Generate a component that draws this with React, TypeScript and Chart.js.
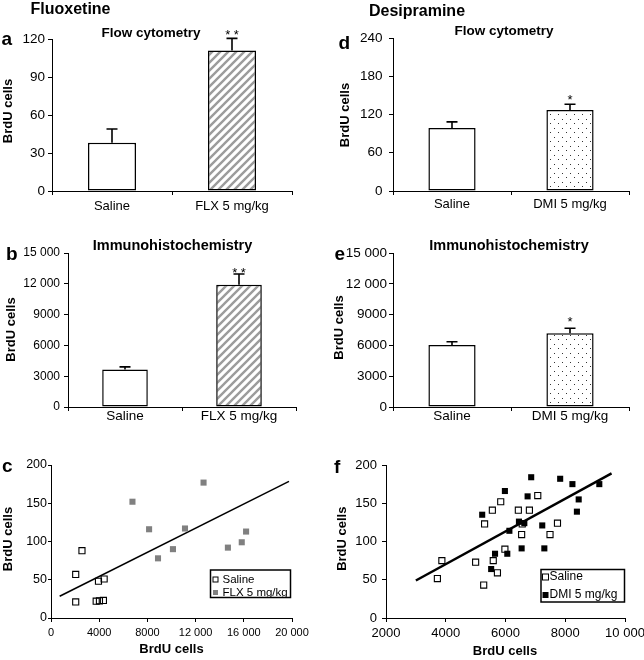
import React, { useEffect, useRef } from 'react';
import { Chart, registerables } from 'chart.js';

Chart.register(...registerables);

const FONT = '"Liberation Sans", Arial, Helvetica, sans-serif';
Chart.defaults.font.family = FONT;
Chart.defaults.color = '#000';

// ---------------- data ----------------
const categoriesFLX = ['Saline', 'FLX 5 mg/kg'];
const categoriesDMI = ['Saline', 'DMI 5 mg/kg'];

// axis ranges: [min, max, step]
const flowFLXAxis = [0, 120, 30];
const ihcAxis = [0, 15000, 3000];
const flowDMIAxis = [0, 240, 60];
const scatterYAxis = [0, 200, 50];
const flxScatterXAxis = [0, 20000, 4000];
const dmiScatterXAxis = [2000, 10000, 2000];

const flowFLXMean = [38, 111];
const flowFLXErr = [11, 9.5];
const flowFLXSig = ['', '* *'];

const ihcFLXMean = [3650, 11900];
const ihcFLXErr = [260, 1050];
const ihcFLXSig = ['', '* *'];

const flowDMIMean = [99, 127];
const flowDMIErr = [9.5, 9];
const flowDMISig = ['', '*'];

const ihcDMIMean = [6040, 7180];
const ihcDMIErr = [320, 490];
const ihcDMISig = ['', '*'];

const flxSalineIhc = [2050, 2050, 2570, 3750, 3940, 4020, 4350, 4410];
const flxSalineFlow = [21, 57, 88, 22, 48, 22.5, 23, 51];
const flxDrugIhc = [6760, 8140, 8880, 10120, 11120, 12660, 14680, 15830, 16190];
const flxDrugFlow = [152, 116, 78, 90, 117, 177, 92, 99, 113];
const flxTrendIhc = [720, 19750];
const flxTrendFlow = [28.4, 178.6];

const dmiSalineIhc = [3720, 3870, 5000, 5270, 5300, 5560, 5590, 5730, 5840, 5980, 6430, 6540, 6560, 6800, 7080, 7490, 7740];
const dmiSalineFlow = [51.5, 75, 73, 43, 123, 141, 75, 59, 152, 90, 141, 109, 123, 141, 160, 109, 124];
const dmiDrugIhc = [5220, 5520, 5650, 5980, 6060, 6130, 6450, 6540, 6630, 6740, 6860, 7230, 7300, 7830, 8240, 8390, 8450, 9140];
const dmiDrugFlow = [135, 64, 84, 166, 84, 114, 126, 91, 124, 159, 184, 121, 91, 182, 175, 139, 155, 175];
const dmiTrendIhc = [3000, 9550];
const dmiTrendFlow = [49, 189];

// ---------------- helpers ----------------
const W = 644;
const H = 660;

const fmt = (v: any) => {
  const n = Number(v);
  return n >= 10000 ? String(n).replace(/\B(?=(\d{3})+(?!\d))/g, ' ') : String(n);
};

const pts = (xs: number[], ys: number[]) => xs.map((x, i) => ({ x, y: ys[i] }));

const fixY = (w: number) => (s: any) => {
  s.width = w;
  s.paddingTop = 0; s.paddingBottom = 0; s.paddingLeft = 0; s.paddingRight = 0;
};
const fixX = (h: number) => (s: any) => {
  s.height = h;
  s.paddingTop = 0; s.paddingBottom = 0; s.paddingLeft = 0; s.paddingRight = 0;
};

function font(size: number, bold?: boolean) {
  return `${bold ? 'bold ' : ''}${size}px ${FONT}`;
}

function makeExtras(o: any) {
  return {
    id: 'extras',
    afterDatasetsDraw(chart: any) {
      if (!o.errors) return;
      const ctx = chart.ctx;
      const ys = chart.scales.y;
      const meta = chart.getDatasetMeta(0);
      const vals = chart.data.datasets[0].data;
      ctx.save();
      ctx.strokeStyle = '#000';
      ctx.lineWidth = 1.6;
      meta.data.forEach((bar: any, i: number) => {
        const top = ys.getPixelForValue(vals[i] + o.errors[i]);
        ctx.beginPath();
        ctx.moveTo(bar.x, bar.y);
        ctx.lineTo(bar.x, top);
        ctx.moveTo(bar.x - 5.5, top);
        ctx.lineTo(bar.x + 5.5, top);
        ctx.stroke();
        const s = o.stars && o.stars[i];
        if (s) {
          ctx.fillStyle = '#000';
          ctx.font = font(13);
          ctx.textAlign = 'center';
          ctx.textBaseline = 'alphabetic';
          ctx.fillText(s, bar.x, top + o.starOffset);
        }
      });
      ctx.restore();
    },
    afterDraw(chart: any) {
      const ctx = chart.ctx;
      ctx.save();
      if (o.legend) {
        const L = o.legend;
        const [l, t, r, b] = L.box;
        ctx.fillStyle = '#fff';
        ctx.fillRect(l, t, r - l, b - t);
        ctx.strokeStyle = '#000';
        ctx.lineWidth = 1.5;
        ctx.strokeRect(l, t, r - l, b - t);
        L.datasets.forEach((di: number, k: number) => {
          const ds = chart.data.datasets[di];
          const cy = L.rows[k];
          const m = L.marker;
          if (ds.pointBackgroundColor && ds.pointBackgroundColor !== 'rgba(0,0,0,0)') {
            ctx.fillStyle = ds.pointBackgroundColor;
            ctx.fillRect(L.markerX - m / 2, cy - m / 2, m, m);
          }
          if (ds.pointBorderWidth > 0) {
            ctx.strokeStyle = ds.pointBorderColor;
            ctx.lineWidth = 1;
            ctx.strokeRect(L.markerX - m / 2, cy - m / 2, m, m);
          }
          ctx.fillStyle = '#000';
          ctx.font = font(L.size);
          ctx.textAlign = 'left';
          ctx.textBaseline = 'middle';
          ctx.fillText(ds.label, L.textX, cy);
        });
      }
      (o.texts || []).forEach((t: any) => {
        ctx.save();
        ctx.fillStyle = '#000';
        ctx.font = font(t.size, t.bold);
        ctx.textAlign = t.align || 'left';
        ctx.textBaseline = t.baseline || 'alphabetic';
        if (t.rotate) {
          ctx.translate(t.x, t.y);
          ctx.rotate(-Math.PI / 2);
          ctx.fillText(t.text, 0, 0);
        } else {
          ctx.fillText(t.text, t.x, t.y);
        }
        ctx.restore();
      });
      ctx.restore();
    },
  };
}

function area(l: number, t: number, r: number, b: number, xh: number) {
  return { padding: { left: 0, top: t, right: W - r, bottom: H - b - xh }, yWidth: l, xHeight: xh };
}

function barConfig(c: any) {
  const a = area(c.area[0], c.area[1], c.area[2], c.area[3], 30);
  return {
    type: 'bar',
    data: {
      labels: c.labels,
      datasets: [
        {
          data: c.values,
          backgroundColor: ['#ffffff', c.fill],
          borderColor: '#000',
          borderWidth: 1.5,
          borderSkipped: false,
          barPercentage: 0.4,
          categoryPercentage: 1,
        },
      ],
    },
    options: {
      responsive: false,
      animation: false,
      events: [],
      layout: { padding: a.padding },
      plugins: { legend: { display: false }, tooltip: { enabled: false }, title: { display: false } },
      scales: {
        x: {
          grid: { display: true, drawOnChartArea: false, tickLength: 4, tickColor: '#000', offset: true },
          border: { color: '#000', width: 1 },
          ticks: { font: { size: c.xFont }, padding: c.xPad, color: '#000', maxRotation: 0 },
          afterFit: fixX(a.xHeight),
        },
        y: {
          min: c.axis[0],
          max: c.axis[1],
          ticks: { stepSize: c.axis[2], font: { size: c.yFont }, padding: c.yPad, color: '#000', callback: fmt },
          grid: { drawOnChartArea: false, tickLength: 4, tickColor: '#000' },
          border: { color: '#000', width: 1 },
          afterFit: fixY(a.yWidth),
        },
      },
    },
    plugins: [makeExtras({ errors: c.errors, stars: c.stars, starOffset: c.starOffset, texts: c.texts })],
  };
}

function scatterConfig(c: any) {
  const a = area(c.area[0], c.area[1], c.area[2], c.area[3], 30);
  return {
    type: 'scatter',
    data: {
      datasets: [
        {
          label: 'Trend',
          data: c.trend,
          showLine: true,
          borderColor: '#000',
          borderWidth: c.trendWidth,
          pointRadius: 0,
          order: 2,
        },
        {
          label: 'Saline',
          data: c.saline,
          pointStyle: 'rect',
          pointRadius: 4.3,
          pointBackgroundColor: 'rgba(0,0,0,0)',
          pointBorderColor: '#000',
          pointBorderWidth: 1.1,
          order: 1,
        },
        {
          label: c.drugLabel,
          data: c.drug,
          pointStyle: 'rect',
          pointRadius: 4.3,
          pointBackgroundColor: c.drugColor,
          pointBorderColor: c.drugColor,
          pointBorderWidth: 0,
          order: 0,
        },
      ],
    },
    options: {
      responsive: false,
      animation: false,
      events: [],
      layout: { padding: a.padding },
      plugins: { legend: { display: false }, tooltip: { enabled: false }, title: { display: false } },
      scales: {
        x: {
          type: 'linear',
          min: c.xAxis[0],
          max: c.xAxis[1],
          ticks: { stepSize: c.xAxis[2], font: { size: c.xFont }, padding: c.xPad, color: '#000', callback: fmt, maxRotation: 0 },
          grid: { drawOnChartArea: false, tickLength: 4, tickColor: '#000' },
          border: { color: '#000', width: 1 },
          afterFit: fixX(a.xHeight),
        },
        y: {
          min: c.yAxis[0],
          max: c.yAxis[1],
          ticks: { stepSize: c.yAxis[2], font: { size: c.yFont }, padding: c.yPad, color: '#000', callback: fmt },
          grid: { drawOnChartArea: false, tickLength: c.yTick, tickColor: '#000' },
          border: { color: '#000', width: 1 },
          afterFit: fixY(a.yWidth),
        },
      },
    },
    plugins: [makeExtras({ legend: c.legend, texts: c.texts })],
  };
}

function hatchPattern() {
  const c = document.createElement('canvas');
  c.width = 8;
  c.height = 8;
  const g = c.getContext('2d') as CanvasRenderingContext2D;
  g.fillStyle = '#fff';
  g.fillRect(0, 0, 8, 8);
  g.strokeStyle = '#9c9c9c';
  g.lineWidth = 2.4;
  g.beginPath();
  g.moveTo(-2, 10); g.lineTo(10, -2);
  g.moveTo(-6, 6); g.lineTo(6, -6);
  g.moveTo(2, 14); g.lineTo(14, 2);
  g.stroke();
  return g.createPattern(c, 'repeat');
}

function dotPattern() {
  const c = document.createElement('canvas');
  c.width = 8;
  c.height = 9;
  const g = c.getContext('2d') as CanvasRenderingContext2D;
  g.fillStyle = '#fff';
  g.fillRect(0, 0, 8, 9);
  g.fillStyle = '#333';
  g.fillRect(2, 2, 1, 1);
  g.fillRect(6, 6, 1, 1);
  return g.createPattern(c, 'repeat');
}

const yTitle = (x: number, y: number) => ({ text: 'BrdU cells', x, y, size: 13, bold: true, align: 'center', baseline: 'middle', rotate: true });

export default function App() {
  const canvases = useRef<(HTMLCanvasElement | null)[]>([]);

  useEffect(() => {
    const hatch = hatchPattern();
    const dots = dotPattern();
    const cfgs: any[] = [
      barConfig({
        labels: categoriesFLX, values: flowFLXMean, errors: flowFLXErr, stars: flowFLXSig, starOffset: 0.7,
        fill: hatch, axis: flowFLXAxis, area: [52, 39, 292, 191],
        xFont: 13, xPad: 3.5, yFont: 13.5, yPad: 3,
        texts: [
          { text: 'Fluoxetine', x: 30.5, y: 14, size: 16, bold: true },
          { text: 'a', x: 1.5, y: 45, size: 19, bold: true },
          { text: 'Flow cytometry', x: 151, y: 36.5, size: 13.5, bold: true, align: 'center' },
          yTitle(8, 111),
        ],
      }),
      barConfig({
        labels: categoriesFLX, values: ihcFLXMean, errors: ihcFLXErr, stars: ihcFLXSig, starOffset: 3,
        fill: hatch, axis: ihcAxis, area: [68, 253, 296, 407],
        xFont: 13.5, xPad: -2.5, yFont: 12, yPad: 4,
        texts: [
          { text: 'b', x: 6, y: 260, size: 19, bold: true },
          { text: 'Immunohistochemistry', x: 172.5, y: 250, size: 14.5, bold: true, align: 'center' },
          yTitle(11, 329.5),
        ],
      }),
      scatterConfig({
        saline: pts(flxSalineIhc, flxSalineFlow), drug: pts(flxDrugIhc, flxDrugFlow), trend: pts(flxTrendIhc, flxTrendFlow),
        drugLabel: 'FLX 5 mg/kg', drugColor: '#808080', trendWidth: 1.5,
        xAxis: flxScatterXAxis, yAxis: scatterYAxis, area: [51, 465, 292, 618],
        xFont: 11, xPad: 4, yFont: 12.5, yPad: 1, yTick: 3,
        legend: { box: [210.5, 570, 290.5, 597.5], rows: [579.5, 592.5], markerX: 215.5, textX: 222.5, marker: 5, size: 11.5, datasets: [1, 2] },
        texts: [
          { text: 'c', x: 2, y: 471.5, size: 19, bold: true },
          yTitle(8, 539),
          { text: 'BrdU cells', x: 171.5, y: 649, size: 13, bold: true, align: 'center', baseline: 'middle' },
        ],
      }),
      barConfig({
        labels: categoriesDMI, values: flowDMIMean, errors: flowDMIErr, stars: flowDMISig, starOffset: 0,
        fill: dots, axis: flowDMIAxis, area: [393, 38, 629, 191],
        xFont: 13, xPad: 2, yFont: 13.5, yPad: 6.5,
        texts: [
          { text: 'Desipramine', x: 369, y: 15.5, size: 16, bold: true },
          { text: 'd', x: 338.5, y: 48.5, size: 19, bold: true },
          { text: 'Flow cytometry', x: 504, y: 35, size: 13.5, bold: true, align: 'center' },
          yTitle(345, 115),
        ],
      }),
      barConfig({
        labels: categoriesDMI, values: ihcDMIMean, errors: ihcDMIErr, stars: ihcDMISig, starOffset: -1.8,
        fill: dots, axis: ihcAxis, area: [393, 253, 629, 407],
        xFont: 13.5, xPad: -2.5, yFont: 13.5, yPad: 2,
        texts: [
          { text: 'e', x: 334.5, y: 259.5, size: 19, bold: true },
          { text: 'Immunohistochemistry', x: 509, y: 250, size: 14.5, bold: true, align: 'center' },
          yTitle(339, 327.5),
        ],
      }),
      scatterConfig({
        saline: pts(dmiSalineIhc, dmiSalineFlow), drug: pts(dmiDrugIhc, dmiDrugFlow), trend: pts(dmiTrendIhc, dmiTrendFlow),
        drugLabel: 'DMI 5 mg/kg', drugColor: '#000000', trendWidth: 2.5,
        xAxis: dmiScatterXAxis, yAxis: scatterYAxis, area: [386, 465, 625, 618],
        xFont: 13, xPad: 4, yFont: 13, yPad: 5, yTick: 4,
        legend: { box: [541, 569.5, 624.5, 602], rows: [577, 595], markerX: 545.5, textX: 549.5, marker: 6, size: 12, datasets: [1, 2] },
        texts: [
          { text: 'f', x: 334, y: 473, size: 19, bold: true },
          yTitle(342, 538.7),
          { text: 'BrdU cells', x: 505, y: 651, size: 13, bold: true, align: 'center', baseline: 'middle' },
        ],
      }),
    ];
    const charts = cfgs.map((cfg, i) => new Chart(canvases.current[i] as HTMLCanvasElement, cfg));
    return () => charts.forEach((c) => c.destroy());
  }, []);

  return (
    <div style={{ position: 'absolute', left: 0, top: 0, width: W, height: H, background: '#fff', overflow: 'hidden' }}>
      {[0, 1, 2, 3, 4, 5].map((i) => (
        <canvas
          key={i}
          ref={(el) => { canvases.current[i] = el; }}
          width={W}
          height={H}
          style={{ position: 'absolute', left: 0, top: 0 }}
        />
      ))}
    </div>
  );
}
